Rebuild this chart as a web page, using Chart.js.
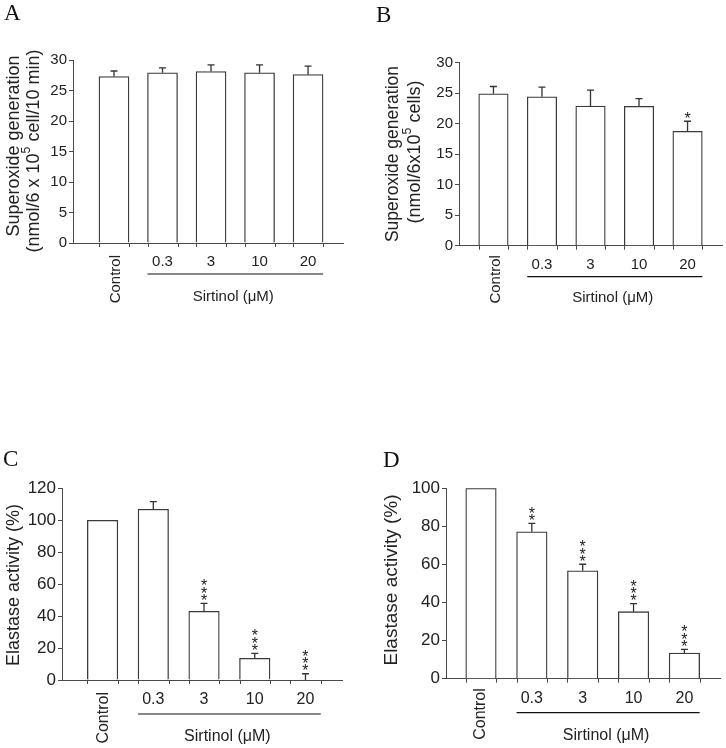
<!DOCTYPE html>
<html><head><meta charset="utf-8">
<script src="https://cdn.jsdelivr.net/npm/chart.js@4/dist/chart.umd.min.js"></script>
<style>
html,body{margin:0;padding:0;background:#fff;}
#wrap{position:relative;width:726px;height:748px;overflow:hidden;}
canvas{position:absolute;left:0;top:0;}
</style></head><body><div id="wrap">
<canvas id="cA" width="726" height="748"></canvas>
<canvas id="cB" width="726" height="748"></canvas>
<canvas id="cC" width="726" height="748"></canvas>
<canvas id="cD" width="726" height="748"></canvas>
</div>
<script>
// ---------- data ----------
const categories = ['Control', '0.3', '3', '10', '20'];
const groupLabel = 'Sirtinol (μM)';

const superoxideA     = [27.3, 27.9, 28.1, 27.9, 27.6];
const superoxideA_sem = [0.9, 0.8, 1.1, 1.3, 1.4];
const superoxideA_sig = ['', '', '', '', ''];
const yTicksA = [0, 5, 10, 15, 20, 25, 30];

const superoxideB     = [24.9, 24.4, 22.9, 22.85, 18.75];
const superoxideB_sem = [1.2, 1.6, 2.6, 1.25, 1.65];
const superoxideB_sig = ['', '', '', '', '*'];
const yTicksB = [0, 5, 10, 15, 20, 25, 30];

const elastaseC     = [100, 106.9, 43.0, 13.6, 0];
const elastaseC_sem = [0, 4.7, 5.0, 3.1, 3.9];
const elastaseC_sig = ['', '', '***', '***', '***'];
const yTicksC = [0, 20, 40, 60, 80, 100, 120];

const elastaseD     = [100, 77.2, 56.7, 35.2, 13.5];
const elastaseD_sem = [0, 4.4, 3.4, 4.2, 1.9];
const elastaseD_sig = ['', '**', '***', '***', '***'];
const yTicksD = [0, 20, 40, 60, 80, 100];

// ---------- layout / style ----------
const SANS = '"Liberation Sans", Arial, Helvetica, sans-serif';
const SERIF = '"Liberation Serif", "Times New Roman", serif';
const AXIS = '#4a4a4a';
const TEXT = '#222';

const panels = [
  { id: 'cA', letter: 'A', letterPos: [4, 20], values: superoxideA, sem: superoxideA_sem, sig: superoxideA_sig, yTicks: yTicksA,
    area: { left: 73, right: 343, top: 60, bottom: 243 }, xRange: [-0.845, 4.72], barW: 30,
    tickFont: 15, labFont: 15, numDy: 19, lineDy: 31, sirDy: 54, ctrlDy: 12, ctrlDx: 2,
    titles: [ { segs: [{ t: 'Superoxide generation' }], x: 14, y: 146, size: 18 },
              { segs: [{ t: '(nmol/6 x 10' }, { t: '5', sup: true }, { t: ' cell/10 min)' }], x: 34, y: 151, size: 18 } ] },
  { id: 'cB', letter: 'B', letterPos: [376, 22], values: superoxideB, sem: superoxideB_sem, sig: superoxideB_sig, yTicks: yTicksB,
    area: { left: 459, right: 722, top: 62.7, bottom: 245.7 }, xRange: [-0.71, 4.71], barW: 29.5,
    tickFont: 15, labFont: 15, numDy: 19, lineDy: 31, sirDy: 52, ctrlDy: 9.5, ctrlDx: 2,
    titles: [ { segs: [{ t: 'Superoxide generation' }], x: 393, y: 154, size: 17.5 },
              { segs: [{ t: '(nmol/6x10' }, { t: '5', sup: true }, { t: ' cells)' }], x: 415, y: 152, size: 18 } ] },
  { id: 'cC', letter: 'C', letterPos: [3, 466], values: elastaseC, sem: elastaseC_sem, sig: elastaseC_sig, yTicks: yTicksC,
    area: { left: 62, right: 342, top: 488.3, bottom: 680 }, xRange: [-0.80, 4.72], barW: 30.5,
    tickFont: 17, labFont: 16, numDy: 20, lineDy: 34, sirDy: 57, ctrlDy: 12, ctrlDx: 1.5,
    titles: [ { segs: [{ t: 'Elastase activity (%)' }], x: 14, y: 585, size: 18 } ] },
  { id: 'cD', letter: 'D', letterPos: [383, 467], values: elastaseD, sem: elastaseD_sem, sig: elastaseD_sig, yTicks: yTicksD,
    area: { left: 446, right: 720, top: 488.3, bottom: 678.7 }, xRange: [-0.688, 4.70], barW: 30.5,
    tickFont: 17, labFont: 16, numDy: 19.5, lineDy: 34, sirDy: 57, ctrlDy: 9.5, ctrlDx: 0,
    titles: [ { segs: [{ t: 'Elastase activity (%)' }], x: 392, y: 580, size: 19 } ] }
];

const YAXIS_W = 40;
const W = 726, H = 748;

function drawRotatedSegs(ctx, segs, x, y, size) {
  ctx.save();
  ctx.translate(x, y);
  ctx.rotate(-Math.PI / 2);
  ctx.textBaseline = 'middle';
  ctx.textAlign = 'left';
  let total = 0;
  segs.forEach(s => {
    ctx.font = (s.sup ? size * 0.68 : size) + 'px ' + SANS;
    s._w = ctx.measureText(s.t).width;
    total += s._w;
  });
  let cx = -total / 2;
  segs.forEach(s => {
    ctx.font = (s.sup ? size * 0.68 : size) + 'px ' + SANS;
    ctx.fillText(s.t, cx, s.sup ? -size * 0.4 : 0);
    cx += s._w;
  });
  ctx.restore();
}

const extrasPlugin = {
  id: 'extras',
  afterDraw(chart) {
    const p = chart.options.plugins.extras.panel;
    const ctx = chart.ctx;
    const ys = chart.scales.y;
    const bars = chart.getDatasetMeta(0).data.map(b => b.getProps(['x', 'y', 'width', 'base'], true));
    const bottom = ys.getPixelForValue(0);
    ctx.save();
    // error bars
    ctx.strokeStyle = '#333';
    ctx.lineWidth = 1.3;
    bars.forEach((b, i) => {
      const s = p.sem[i];
      if (!(s > 0)) return;
      const y0 = ys.getPixelForValue(p.values[i]);
      const y1 = ys.getPixelForValue(p.values[i] + s);
      ctx.beginPath();
      ctx.moveTo(b.x, y0); ctx.lineTo(b.x, y1);
      ctx.moveTo(b.x - 3.5, y1); ctx.lineTo(b.x + 3.5, y1);
      ctx.stroke();
    });
    // x-axis ticks at bar edges
    ctx.strokeStyle = AXIS;
    ctx.lineWidth = 1;
    bars.forEach(b => {
      [b.x - b.width / 2, b.x + b.width / 2].forEach(ex => {
        const px = Math.round(ex) + 0.5;
        ctx.beginPath(); ctx.moveTo(px, bottom); ctx.lineTo(px, bottom + 4); ctx.stroke();
      });
    });
    // significance stars (stacked)
    ctx.fillStyle = TEXT;
    ctx.font = '16px ' + SANS;
    ctx.textAlign = 'center';
    ctx.textBaseline = 'alphabetic';
    bars.forEach((b, i) => {
      const n = p.sig[i].length;
      if (!n) return;
      const top = ys.getPixelForValue(p.values[i] + p.sem[i]);
      for (let k = 0; k < n; k++) {
        const cy = top - 7 - k * 7.2;
        ctx.fillText('*', b.x, cy + 9.5);
      }
    });
    // category labels
    ctx.font = p.labFont + 'px ' + SANS;
    ctx.textBaseline = 'middle';
    ctx.textAlign = 'center';
    bars.forEach((b, i) => {
      if (i === 0) return;
      ctx.fillText(categories[i], b.x, bottom + p.numDy);
    });
    // Control, rotated
    ctx.save();
    ctx.translate(bars[0].x + p.ctrlDx, bottom + p.ctrlDy);
    ctx.rotate(-Math.PI / 2);
    ctx.textAlign = 'right';
    ctx.textBaseline = 'middle';
    ctx.fillText(categories[0], 0, 0);
    ctx.restore();
    // group underline
    const lx0 = bars[1].x - bars[1].width / 2;
    const lx1 = bars[4].x + bars[4].width / 2;
    ctx.strokeStyle = '#111';
    ctx.lineWidth = 1.2;
    ctx.beginPath();
    ctx.moveTo(lx0, bottom + p.lineDy); ctx.lineTo(lx1, bottom + p.lineDy);
    ctx.stroke();
    ctx.textAlign = 'center';
    ctx.fillText(groupLabel, (lx0 + lx1) / 2 - 2, bottom + p.sirDy);
    // y titles
    p.titles.forEach(t => drawRotatedSegs(ctx, t.segs, t.x, t.y, t.size));
    // panel letter
    ctx.font = '23px ' + SERIF;
    ctx.textAlign = 'left';
    ctx.textBaseline = 'alphabetic';
    ctx.fillStyle = '#111';
    ctx.fillText(p.letter, p.letterPos[0], p.letterPos[1]);
    ctx.restore();
  }
};

panels.forEach(p => {
  const a = p.area;
  new Chart(document.getElementById(p.id), {
    type: 'bar',
    data: {
      datasets: [{
        data: p.values.map((v, i) => ({ x: i, y: v })),
        backgroundColor: '#ffffff',
        borderColor: '#3a3a3a',
        borderWidth: 1.3,
        borderSkipped: 'start',
        barThickness: p.barW
      }]
    },
    options: {
      responsive: false,
      animation: false,
      events: [],
      layout: { padding: { left: a.left - YAXIS_W, right: W - a.right, top: a.top, bottom: H - a.bottom } },
      plugins: { legend: { display: false }, tooltip: { enabled: false }, extras: { panel: p } },
      scales: {
        x: {
          type: 'linear', min: p.xRange[0], max: p.xRange[1], offset: false,
          ticks: { display: false },
          grid: { display: false, drawTicks: false },
          border: { display: true, color: AXIS, width: 1 },
          afterFit: s => { s.height = 0; }
        },
        y: {
          min: 0, max: p.yTicks[p.yTicks.length - 1],
          afterBuildTicks: s => { s.ticks = p.yTicks.map(v => ({ value: v })); },
          ticks: { color: TEXT, font: { family: SANS, size: p.tickFont }, padding: 2 },
          grid: { display: true, drawOnChartArea: false, drawTicks: true, tickLength: 4, color: AXIS, lineWidth: 1 },
          border: { display: true, color: AXIS, width: 1 },
          afterFit: s => { s.width = YAXIS_W; }
        }
      }
    },
    plugins: [extrasPlugin]
  });
});
</script>
</body></html>
